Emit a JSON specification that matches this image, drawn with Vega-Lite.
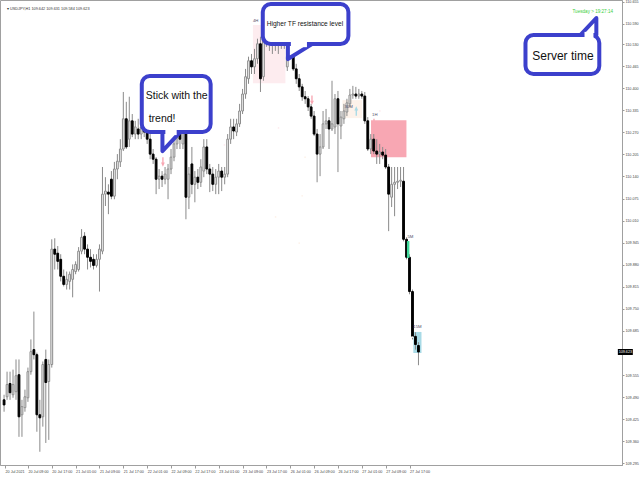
{
"$schema": "https://vega.github.io/schema/vega-lite/v6.json",
"width": 622, "height": 465,
"autosize": {"type": "none"},
"padding": {"left": 0, "top": 0, "right": 18, "bottom": 15},
"background": "#ffffff",
"config": {
 "view": {"stroke": "#a0a0a0", "strokeWidth": 1},
 "font": "Liberation Sans, Arial, sans-serif",
 "axisX": {"labelAlign": "left", "labelFontSize": 3.7, "labelColor": "#444444", "labelPadding": 1, "tickSize": 3, "tickColor": "#9a9a9a", "domainColor": "#a0a0a0", "grid": false, "labelOverlap": false, "labelBound": false, "labelFlush": false, "labelSeparation": 0},
 "axisY": {"labelFontSize": 3.7, "labelColor": "#444444", "labelPadding": 1, "tickSize": 2, "tickColor": "#9a9a9a", "domainColor": "#a0a0a0", "grid": false, "labelOverlap": false, "labelBound": false, "labelFlush": false, "labelSeparation": 0}
},
"datasets": {
"bars": [
{"i":0,"o":109.482,"h":109.497,"l":109.447,"c":109.467},
{"i":1,"o":109.491,"h":109.565,"l":109.482,"c":109.527},
{"i":2,"o":109.530,"h":109.565,"l":109.482,"c":109.503},
{"i":3,"o":109.497,"h":109.571,"l":109.488,"c":109.527},
{"i":4,"o":109.506,"h":109.601,"l":109.482,"c":109.553},
{"i":5,"o":109.556,"h":109.601,"l":109.373,"c":109.432},
{"i":6,"o":109.438,"h":109.482,"l":109.373,"c":109.462},
{"i":7,"o":109.459,"h":109.512,"l":109.447,"c":109.491},
{"i":8,"o":109.488,"h":109.577,"l":109.476,"c":109.565},
{"i":9,"o":109.565,"h":109.660,"l":109.556,"c":109.624},
{"i":10,"o":109.630,"h":109.742,"l":109.601,"c":109.615},
{"i":11,"o":109.615,"h":109.621,"l":109.388,"c":109.438},
{"i":12,"o":109.438,"h":109.482,"l":109.329,"c":109.429},
{"i":13,"o":109.432,"h":109.595,"l":109.403,"c":109.586},
{"i":14,"o":109.601,"h":109.630,"l":109.355,"c":109.533},
{"i":15,"o":109.536,"h":109.601,"l":109.364,"c":109.586},
{"i":16,"o":109.586,"h":109.955,"l":109.577,"c":109.926},
{"i":17,"o":109.926,"h":109.958,"l":109.866,"c":109.911},
{"i":18,"o":109.914,"h":109.935,"l":109.866,"c":109.890},
{"i":19,"o":109.896,"h":109.911,"l":109.831,"c":109.846},
{"i":20,"o":109.846,"h":109.866,"l":109.816,"c":109.822},
{"i":21,"o":109.822,"h":109.860,"l":109.807,"c":109.837},
{"i":22,"o":109.831,"h":109.860,"l":109.807,"c":109.852},
{"i":23,"o":109.837,"h":109.881,"l":109.784,"c":109.866},
{"i":24,"o":109.860,"h":109.890,"l":109.852,"c":109.881},
{"i":25,"o":109.866,"h":109.932,"l":109.860,"c":109.920},
{"i":26,"o":109.920,"h":109.985,"l":109.911,"c":109.961},
{"i":27,"o":109.964,"h":109.976,"l":109.911,"c":109.926},
{"i":28,"o":109.926,"h":109.940,"l":109.866,"c":109.902},
{"i":29,"o":109.902,"h":109.926,"l":109.872,"c":109.890},
{"i":30,"o":109.896,"h":109.911,"l":109.866,"c":109.878},
{"i":31,"o":109.878,"h":109.911,"l":109.872,"c":109.896},
{"i":32,"o":109.896,"h":109.940,"l":109.801,"c":109.926},
{"i":33,"o":109.920,"h":110.168,"l":109.911,"c":110.088},
{"i":34,"o":110.088,"h":110.138,"l":110.053,"c":110.097},
{"i":35,"o":110.094,"h":110.117,"l":110.029,"c":110.088},
{"i":36,"o":110.132,"h":110.156,"l":110.073,"c":110.082},
{"i":37,"o":110.082,"h":110.183,"l":110.073,"c":110.162},
{"i":38,"o":110.162,"h":110.206,"l":110.132,"c":110.185},
{"i":39,"o":110.183,"h":110.250,"l":110.168,"c":110.221},
{"i":40,"o":110.221,"h":110.389,"l":110.215,"c":110.310},
{"i":41,"o":110.310,"h":110.360,"l":110.221,"c":110.227},
{"i":42,"o":110.250,"h":110.375,"l":110.227,"c":110.304},
{"i":43,"o":110.304,"h":110.324,"l":110.256,"c":110.265},
{"i":44,"o":110.265,"h":110.304,"l":110.250,"c":110.286},
{"i":45,"o":110.280,"h":110.310,"l":110.250,"c":110.265},
{"i":46,"o":110.265,"h":110.310,"l":110.250,"c":110.286},
{"i":47,"o":110.286,"h":110.315,"l":110.256,"c":110.271},
{"i":48,"o":110.274,"h":110.295,"l":110.236,"c":110.250},
{"i":49,"o":110.250,"h":110.265,"l":110.191,"c":110.206},
{"i":50,"o":110.206,"h":110.221,"l":110.177,"c":110.191},
{"i":51,"o":110.191,"h":110.197,"l":110.088,"c":110.132},
{"i":52,"o":110.132,"h":110.162,"l":110.103,"c":110.141},
{"i":53,"o":110.141,"h":110.156,"l":110.109,"c":110.132},
{"i":54,"o":110.132,"h":110.168,"l":110.117,"c":110.147},
{"i":55,"o":110.132,"h":110.177,"l":110.073,"c":110.162},
{"i":56,"o":110.162,"h":110.221,"l":110.147,"c":110.197},
{"i":57,"o":110.197,"h":110.265,"l":110.185,"c":110.236},
{"i":58,"o":110.236,"h":110.295,"l":110.221,"c":110.265},
{"i":59,"o":110.265,"h":110.295,"l":110.221,"c":110.250},
{"i":60,"o":110.236,"h":110.324,"l":110.221,"c":110.310},
{"i":61,"o":110.310,"h":110.324,"l":110.014,"c":110.079},
{"i":62,"o":110.079,"h":110.168,"l":110.044,"c":110.147},
{"i":63,"o":110.177,"h":110.227,"l":110.088,"c":110.117},
{"i":64,"o":110.117,"h":110.156,"l":110.064,"c":110.138},
{"i":65,"o":110.138,"h":110.162,"l":110.103,"c":110.123},
{"i":66,"o":110.123,"h":110.191,"l":110.109,"c":110.168},
{"i":67,"o":110.156,"h":110.250,"l":110.138,"c":110.227},
{"i":68,"o":110.227,"h":110.250,"l":110.147,"c":110.162},
{"i":69,"o":110.162,"h":110.177,"l":110.094,"c":110.147},
{"i":70,"o":110.147,"h":110.168,"l":110.097,"c":110.117},
{"i":71,"o":110.117,"h":110.162,"l":110.088,"c":110.138},
{"i":72,"o":110.138,"h":110.177,"l":110.088,"c":110.156},
{"i":73,"o":110.156,"h":110.168,"l":110.097,"c":110.138},
{"i":74,"o":110.138,"h":110.168,"l":110.117,"c":110.147},
{"i":75,"o":110.147,"h":110.265,"l":110.138,"c":110.250},
{"i":76,"o":110.250,"h":110.310,"l":110.236,"c":110.286},
{"i":77,"o":110.286,"h":110.310,"l":110.250,"c":110.274},
{"i":78,"o":110.271,"h":110.310,"l":110.259,"c":110.295},
{"i":79,"o":110.295,"h":110.354,"l":110.286,"c":110.333},
{"i":80,"o":110.333,"h":110.398,"l":110.324,"c":110.383},
{"i":81,"o":110.383,"h":110.457,"l":110.369,"c":110.434},
{"i":82,"o":110.428,"h":110.493,"l":110.413,"c":110.481},
{"i":83,"o":110.481,"h":110.501,"l":110.442,"c":110.463},
{"i":84,"o":110.463,"h":110.516,"l":110.442,"c":110.487},
{"i":85,"o":110.487,"h":110.546,"l":110.472,"c":110.531},
{"i":86,"o":110.531,"h":110.552,"l":110.389,"c":110.428},
{"i":87,"o":110.434,"h":110.561,"l":110.422,"c":110.540},
{"i":88,"o":110.540,"h":110.575,"l":110.522,"c":110.552},
{"i":89,"o":110.552,"h":110.567,"l":110.510,"c":110.531},
{"i":90,"o":110.531,"h":110.561,"l":110.501,"c":110.546},
{"i":91,"o":110.546,"h":110.558,"l":110.510,"c":110.528},
{"i":92,"o":110.528,"h":110.558,"l":110.501,"c":110.546},
{"i":93,"o":110.546,"h":110.558,"l":110.516,"c":110.534},
{"i":94,"o":110.534,"h":110.552,"l":110.516,"c":110.540},
{"i":95,"o":110.463,"h":110.501,"l":110.451,"c":110.493},
{"i":96,"o":110.493,"h":110.561,"l":110.487,"c":110.540},
{"i":97,"o":110.540,"h":110.552,"l":110.451,"c":110.457},
{"i":98,"o":110.457,"h":110.472,"l":110.413,"c":110.428},
{"i":99,"o":110.428,"h":110.442,"l":110.392,"c":110.404},
{"i":100,"o":110.404,"h":110.413,"l":110.363,"c":110.375},
{"i":101,"o":110.375,"h":110.392,"l":110.354,"c":110.369},
{"i":102,"o":110.369,"h":110.377,"l":110.333,"c":110.345},
{"i":103,"o":110.345,"h":110.354,"l":110.310,"c":110.318},
{"i":104,"o":110.318,"h":110.333,"l":110.259,"c":110.265},
{"i":105,"o":110.265,"h":110.280,"l":110.123,"c":110.206},
{"i":106,"o":110.206,"h":110.265,"l":110.141,"c":110.227},
{"i":107,"o":110.227,"h":110.333,"l":110.221,"c":110.295},
{"i":108,"o":110.295,"h":110.339,"l":110.280,"c":110.304},
{"i":109,"o":110.304,"h":110.315,"l":110.221,"c":110.280},
{"i":110,"o":110.280,"h":110.422,"l":110.274,"c":110.295},
{"i":111,"o":110.286,"h":110.383,"l":110.265,"c":110.369},
{"i":112,"o":110.369,"h":110.392,"l":110.153,"c":110.295},
{"i":113,"o":110.289,"h":110.333,"l":110.250,"c":110.315},
{"i":114,"o":110.310,"h":110.354,"l":110.295,"c":110.333},
{"i":115,"o":110.330,"h":110.369,"l":110.318,"c":110.357},
{"i":116,"o":110.354,"h":110.398,"l":110.345,"c":110.380},
{"i":117,"o":110.380,"h":110.407,"l":110.369,"c":110.383},
{"i":118,"o":110.383,"h":110.404,"l":110.369,"c":110.377},
{"i":119,"o":110.377,"h":110.398,"l":110.369,"c":110.383},
{"i":120,"o":110.383,"h":110.392,"l":110.369,"c":110.377},
{"i":121,"o":110.377,"h":110.389,"l":110.295,"c":110.304},
{"i":122,"o":110.304,"h":110.315,"l":110.215,"c":110.221},
{"i":123,"o":110.221,"h":110.265,"l":110.206,"c":110.250},
{"i":124,"o":110.250,"h":110.265,"l":110.206,"c":110.215},
{"i":125,"o":110.215,"h":110.250,"l":110.177,"c":110.206},
{"i":126,"o":110.206,"h":110.236,"l":110.177,"c":110.212},
{"i":127,"o":110.212,"h":110.227,"l":110.191,"c":110.203},
{"i":128,"o":110.203,"h":110.221,"l":110.162,"c":110.168},
{"i":129,"o":110.168,"h":110.177,"l":109.979,"c":110.088},
{"i":130,"o":110.079,"h":110.168,"l":110.050,"c":110.117},
{"i":131,"o":110.117,"h":110.168,"l":110.023,"c":110.123},
{"i":132,"o":110.123,"h":110.168,"l":110.103,"c":110.126},
{"i":133,"o":110.126,"h":110.168,"l":110.109,"c":110.129},
{"i":134,"o":110.126,"h":110.168,"l":109.949,"c":109.955},
{"i":135,"o":109.955,"h":109.961,"l":109.896,"c":109.902},
{"i":136,"o":109.902,"h":109.911,"l":109.793,"c":109.801},
{"i":137,"o":109.801,"h":109.807,"l":109.660,"c":109.669},
{"i":138,"o":109.669,"h":109.681,"l":109.630,"c":109.645},
{"i":139,"o":109.642,"h":109.652,"l":109.584,"c":109.623}
],
"zones": [
{"z":"4H","a":83.48,"b":94.37,"lo":110.415,"hi":110.586},
{"z":"30M","a":113.5,"b":120.1,"lo":110.312,"hi":110.365},
{"z":"1H","a":123.09,"b":134.97,"lo":110.197,"hi":110.306},
{"z":"15M","a":137.28,"b":140.02,"lo":109.620,"hi":109.682}
],
"zone5": [{"z":"5M","a":135.13,"b":135.96,"lo":109.900,"hi":109.950}],
"zonelabels": [
{"t":"4H","i":83.48,"p":110.595},
{"t":"30M","i":114.18,"p":110.342},
{"t":"1H","i":123.42,"p":110.318},
{"t":"5M","i":135.3,"p":109.959},
{"t":"15M","i":137.28,"p":109.694}
],
"arrows": [
{"dir":"down","i":53.28,"p":110.183},
{"dir":"down","i":103.28,"p":110.365},
{"dir":"down","i":124.08,"p":110.296},
{"dir":"up","i":118.14,"p":110.333}
],
"dots": [
{"side":"buy","i":54.11,"p":110.351},
{"side":"sell","i":62.03,"p":110.439},
{"side":"buy","i":73.91,"p":110.233},
{"side":"buy","i":92.06,"p":110.283},
{"side":"sell","i":100.97,"p":110.197},
{"side":"sell","i":99.98,"p":110.083},
{"side":"sell","i":91.07,"p":110.021},
{"side":"sell","i":98.99,"p":109.944},
{"side":"buy","i":126.06,"p":110.333},
{"side":"sell","i":136.95,"p":109.667}
],
"balloons": [
{"id":"trend","a":46.19,"b":69.29,"lo":110.271,"hi":110.436},
{"id":"resist","a":86.78,"b":115.5,"lo":110.530,"hi":110.648},
{"id":"server","a":174.9,"b":199.66,"lo":110.442,"hi":110.557}
],
"tails": [
{"id":"trend","i":53.12,"base":110.271,"tip":110.215},
{"id":"trend","i":59.06,"base":110.271,"tip":110.271},
{"id":"resist","i":95.2,"base":110.530,"tip":110.486},
{"id":"resist","i":103.28,"base":110.530,"tip":110.530},
{"id":"server","i":193.39,"base":110.557,"tip":110.557},
{"id":"server","i":198.67,"base":110.557,"tip":110.607}
],
"mouths": [
{"id":"trend","a":54.1,"b":57.9,"lo":110.262,"hi":110.280},
{"id":"resist","a":96.2,"b":101.6,"lo":110.521,"hi":110.539},
{"id":"server","a":194.7,"b":197.7,"lo":110.548,"hi":110.566}
],
"callouttext": [
{"t":"Stick with the","i":47.51,"p":110.368,"s":"a"},
{"t":"trend!","i":48.5,"p":110.301,"s":"a"},
{"t":"Higher TF resistance level","i":88.1,"p":110.583,"s":"b"}
],
"servertext": [{"t":"Server time","i":187.45,"p":110.483}],
"header": [{"t":"▾ USDJPY,H1  109.642 109.631 109.584 109.623","i":0.97,"p":110.631}],
"clock": [{"t":"Tuesday > 19:27:14","i":204.28,"p":110.622}],
"last": [{"i":208.4,"c":109.623}]
},
"layer": [
{
"data": {"name": "zones"},
"mark": {"type": "rect", "clip": true},
"encoding": {
"x": {"field": "a", "type": "quantitative", "title": null,
 "scale": {"domain": [0.31, 205.6], "nice": false, "zero": false},
 "axis": {"orient": "bottom", "tickCount": 200, "values": [0.31,8,16,24,32,40,48,56,64,72,80,88,96,104,112,120,128,136],
  "labelExpr": "['20 Jul 2021','20 Jul 09:00','20 Jul 17:00','21 Jul 01:00','21 Jul 09:00','21 Jul 17:00','22 Jul 01:00','22 Jul 09:00','22 Jul 17:00','23 Jul 01:00','23 Jul 09:00','23 Jul 17:00','26 Jul 01:00','26 Jul 09:00','26 Jul 17:00','27 Jul 01:00','27 Jul 09:00','27 Jul 17:00'][round(datum.value/8)]",
  "labelOverlap": false}},
"x2": {"field": "b"},
"y": {"field": "lo", "type": "quantitative", "title": null,
 "scale": {"domain": [109.29, 110.66], "nice": false, "zero": false},
 "axis": {"orient": "right", "tickCount": 200, "values": [110.655,110.59,110.53,110.465,110.4,110.335,110.27,110.205,110.14,110.075,110.01,109.945,109.88,109.815,109.75,109.685,109.555,109.49,109.425,109.36,109.295],
  "format": ".3f", "labelOverlap": false}},
"y2": {"field": "hi"},
"color": {"field": "z", "type": "nominal", "legend": null,
 "scale": {"domain": ["4H","30M","1H","15M"], "range": ["#fdecef","#fdf2ea","#f8a7b3","#a8dae6"]}}
}
},
{
"data": {"name": "bars"},
"mark": {"type": "rule", "clip": true, "stroke": "#8a8a8a", "strokeWidth": 1},
"encoding": {
"x": {"field": "i", "type": "quantitative", "title": null},
"y": {"field": "l", "type": "quantitative", "title": null},
"y2": {"field": "h"}
}
},
{
"data": {"name": "bars"},
"mark": {"type": "bar", "clip": true, "size": 1.8, "strokeWidth": 1},
"encoding": {
"x": {"field": "i", "type": "quantitative", "title": null},
"y": {"field": "o", "type": "quantitative", "title": null},
"y2": {"field": "c"},
"fill": {"condition": {"test": "datum.c >= datum.o", "value": "#f2f2f2"}, "value": "#000000"},
"stroke": {"condition": {"test": "datum.c >= datum.o", "value": "#8c8c8c"}, "value": "#000000"}
}
},
{
"data": {"name": "zone5"},
"mark": {"type": "rect", "fill": "#3ed89a"},
"encoding": {
"x": {"field": "a", "type": "quantitative", "title": null},
"x2": {"field": "b"},
"y": {"field": "lo", "type": "quantitative", "title": null},
"y2": {"field": "hi"}
}
},
{
"data": {"name": "zonelabels"},
"mark": {"type": "text", "align": "left", "baseline": "alphabetic", "fontSize": 4.3, "fill": "#50506a"},
"encoding": {
"x": {"field": "i", "type": "quantitative", "title": null},
"y": {"field": "p", "type": "quantitative", "title": null},
"text": {"field": "t"}
}
},
{
"data": {"name": "dots"},
"mark": {"type": "point", "filled": true, "size": 3, "opacity": 1},
"encoding": {
"x": {"field": "i", "type": "quantitative", "title": null},
"y": {"field": "p", "type": "quantitative", "title": null},
"color": {"field": "side", "type": "nominal", "legend": null,
 "scale": {"domain": ["buy","sell"], "range": ["#33dd66","#ee3344"]}}
}
},
{
"data": {"name": "arrows"},
"mark": {"type": "point", "filled": true, "size": 90, "opacity": 1, "shape": "arrow"},
"encoding": {
"x": {"field": "i", "type": "quantitative", "title": null},
"y": {"field": "p", "type": "quantitative", "title": null},
"angle": {"field": "dir", "type": "nominal", "legend": null,
 "scale": {"domain": ["down","up"], "range": [180, 0]}},
"color": {"field": "dir", "type": "nominal", "legend": null,
 "scale": {"domain": ["down","up"], "range": ["#ee1111","#22dd55"]}}
}
},
{
"data": {"name": "last"},
"mark": {"type": "tick", "orient": "horizontal", "thickness": 6, "size": 15, "color": "#000000", "opacity": 1},
"encoding": {
"x": {"field": "i", "type": "quantitative", "title": null},
"y": {"field": "c", "type": "quantitative", "title": null}
}
},
{
"data": {"name": "last"},
"mark": {"type": "text", "align": "center", "baseline": "middle", "fontSize": 3.7, "fill": "#ffffff"},
"encoding": {
"x": {"field": "i", "type": "quantitative", "title": null},
"y": {"field": "c", "type": "quantitative", "title": null},
"text": {"field": "c", "format": ".3f"}
}
},
{
"data": {"name": "header"},
"mark": {"type": "text", "align": "left", "baseline": "alphabetic", "fontSize": 3.8, "fill": "#333333"},
"encoding": {
"x": {"field": "i", "type": "quantitative", "title": null},
"y": {"field": "p", "type": "quantitative", "title": null},
"text": {"field": "t"}
}
},
{
"data": {"name": "clock"},
"mark": {"type": "text", "align": "right", "baseline": "alphabetic", "fontSize": 4.6, "fill": "#3ccf3c"},
"encoding": {
"x": {"field": "i", "type": "quantitative", "title": null},
"y": {"field": "p", "type": "quantitative", "title": null},
"text": {"field": "t"}
}
},
{
"data": {"name": "balloons"},
"mark": {"type": "rect", "fill": "#ffffff", "stroke": "#3c40cc", "strokeWidth": 4, "cornerRadius": 8},
"encoding": {
"x": {"field": "a", "type": "quantitative", "title": null},
"x2": {"field": "b"},
"y": {"field": "lo", "type": "quantitative", "title": null},
"y2": {"field": "hi"}
}
},
{
"data": {"name": "tails"},
"mark": {"type": "area", "fill": "#ffffff", "stroke": "#3c40cc", "strokeWidth": 4, "strokeJoin": "round", "opacity": 1, "fillOpacity": 1},
"encoding": {
"x": {"field": "i", "type": "quantitative", "title": null},
"y": {"field": "base", "type": "quantitative", "title": null},
"y2": {"field": "tip"},
"detail": {"field": "id", "type": "nominal"}
}
},
{
"data": {"name": "mouths"},
"mark": {"type": "rect", "fill": "#ffffff"},
"encoding": {
"x": {"field": "a", "type": "quantitative", "title": null},
"x2": {"field": "b"},
"y": {"field": "lo", "type": "quantitative", "title": null},
"y2": {"field": "hi"}
}
},
{
"data": {"name": "callouttext"},
"mark": {"type": "text", "align": "left", "baseline": "alphabetic", "fill": "#111111"},
"encoding": {
"x": {"field": "i", "type": "quantitative", "title": null},
"y": {"field": "p", "type": "quantitative", "title": null},
"text": {"field": "t"},
"size": {"field": "s", "type": "nominal", "legend": null, "scale": {"domain": ["a","b"], "range": [10.5, 6.6]}}
}
},
{
"data": {"name": "servertext"},
"mark": {"type": "text", "align": "center", "baseline": "alphabetic", "fontSize": 12, "fill": "#111111"},
"encoding": {
"x": {"field": "i", "type": "quantitative", "title": null},
"y": {"field": "p", "type": "quantitative", "title": null},
"text": {"field": "t"}
}
}
]
}
